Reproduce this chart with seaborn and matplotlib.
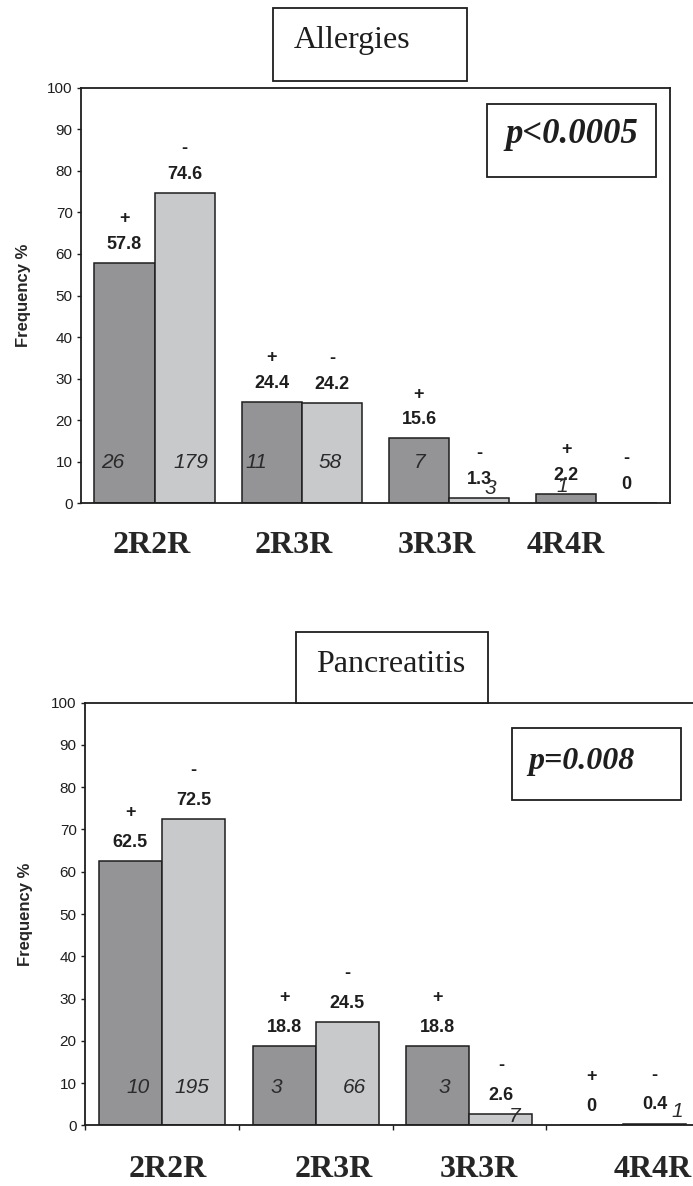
import numpy as np
import pandas as pd
import matplotlib.pyplot as plt
import seaborn as sns
from matplotlib.patches import Rectangle
from matplotlib.transforms import ScaledTranslation

# data
genotypes = ["2R2R", "2R3R", "3R3R", "4R4R"]

allergy_pos = [57.8, 24.4, 15.6, 2.2]
allergy_neg = [74.6, 24.2, 1.3, 0.0]
allergy_n_pos = ["26", "11", "7", "1"]
allergy_n_neg = ["179", "58", "3", ""]

pancreatitis_pos = [62.5, 18.8, 18.8, 0.0]
pancreatitis_neg = [72.5, 24.5, 2.6, 0.4]
pancreatitis_n_pos = ["10", "3", "3", ""]
pancreatitis_n_neg = ["195", "66", "7", "1"]

W, H = 693, 1186
DARK = "#939498"
LIGHT = "#c8c9cb"
INK = "#1e1e1e"
SERIF = ["Liberation Serif", "DejaVu Serif"]

sns.set_style("ticks")
plt.rcParams["font.family"] = ["Liberation Sans", "DejaVu Sans"]
plt.rcParams["axes.edgecolor"] = INK
plt.rcParams["text.color"] = INK


def px_box(x0, y0, x1, y1):
    return [x0 / W, 1 - y1 / H, (x1 - x0) / W, (y1 - y0) / H]


def fig_box(fig, x0, y0, x1, y1):
    l, b, w, h = px_box(x0, y0, x1, y1)
    rect = Rectangle((l, b), w, h, transform=fig.transFigure, facecolor="white",
                     edgecolor=INK, linewidth=1.3, zorder=2)
    fig.add_artist(rect)


def draw_panel(fig, axes_px, pos, neg, n_pos, n_neg, title, title_box, title_xy,
               pval, p_box, p_xy, p_size, label_dx, label_pad, cnt_dx, cnt_y, sign_off,
               boundary_ticks):
    ax = fig.add_axes(px_box(*axes_px))
    df = pd.DataFrame({
        "genotype": genotypes * 2,
        "group": ["+"] * 4 + ["-"] * 4,
        "freq": pos + neg,
    })
    sns.barplot(data=df, x="genotype", y="freq", hue="group", order=genotypes,
                hue_order=["+", "-"], palette={"+": DARK, "-": LIGHT}, width=0.82,
                edgecolor=INK, linewidth=1.1, errorbar=None, legend=False, ax=ax)
    ax.set_xlim(-0.5, 3.5)
    ax.set_ylim(0, 100)
    ax.set_yticks(np.arange(0, 101, 10))
    ax.tick_params(axis="y", length=3, width=1, pad=3, labelsize=11, colors=INK)
    ax.set_xlabel("")
    ax.set_ylabel("Frequency %", fontsize=12, fontweight="bold")
    ax.yaxis.set_label_coords(-0.085, 0.5)
    for s in ax.spines.values():
        s.set_linewidth(1.3)

    ax.set_xticks(range(4))
    ax.set_xticklabels(genotypes, fontfamily=SERIF, fontsize=23, fontweight="bold")
    ax.tick_params(axis="x", which="major", length=0, pad=label_pad)
    for lbl, dx in zip(ax.get_xticklabels(), label_dx):
        lbl.set_transform(lbl.get_transform() + ScaledTranslation(dx / 100, 0, fig.dpi_scale_trans))
    if boundary_ticks:
        ax.set_xticks([-0.5, 0.5, 1.5, 2.5, 3.5], minor=True)
        ax.tick_params(axis="x", which="minor", length=3.6, width=1, colors=INK)

    signs = ["+", "-"]
    counts = [n_pos, n_neg]
    for k, cont in enumerate(ax.containers):
        for i, bar in enumerate(cont):
            x = bar.get_x() + bar.get_width() / 2
            h = bar.get_height()
            ax.annotate(f"{h:g}", xy=(x, h), xytext=(0, 10.2), textcoords="offset points",
                        ha="center", va="baseline", fontsize=13, fontweight="bold")
            ax.annotate(signs[k], xy=(x, h), xytext=(0, sign_off), textcoords="offset points",
                        ha="center", va="baseline", fontsize=13, fontweight="bold")
            if counts[k][i]:
                ax.annotate(counts[k][i], xy=(x, cnt_y[k][i]),
                            xytext=(cnt_dx[k][i] * 0.72, 0), textcoords="offset points",
                            ha="center", va="center", fontsize=15, fontstyle="italic",
                            color="#2a2a2a")

    fig_box(fig, *title_box)
    fig.text(title_xy[0] / W, 1 - title_xy[1] / H, title, fontfamily=SERIF, fontsize=23,
             ha="center", va="baseline", zorder=3)
    fig_box(fig, *p_box)
    fig.text(p_xy[0] / W, 1 - p_xy[1] / H, pval, fontfamily=SERIF, fontsize=p_size,
             fontweight="bold", fontstyle="italic", ha="left", va="baseline", zorder=3)
    return ax


fig = plt.figure(figsize=(W / 100, H / 100), dpi=100)

draw_panel(fig, (81, 87.7, 670, 503.3), allergy_pos, allergy_neg, allergy_n_pos, allergy_n_neg,
           "Allergies", (273, 8.3, 467, 80.7), (352, 48.3),
           "p<0.0005", (487, 104, 656, 176.7), (505, 143.3), 25,
           label_dx=[-3, -8, -12, -31], label_pad=20,
           cnt_dx=[[-12, -15, 1, -4], [6, -2, 11, 0]],
           cnt_y=[[9.8, 9.8, 9.8, 4.0], [9.8, 9.8, 3.6, 0]],
           sign_off=28.7, boundary_ticks=False)

ax2 = draw_panel(fig, (85, 702.7, 700, 1125.3), pancreatitis_pos, pancreatitis_neg,
                 pancreatitis_n_pos, pancreatitis_n_neg,
                 "Pancreatitis", (295.7, 632.3, 488.3, 703.3), (391, 671.7),
                 "p=0.008", (511.7, 728.3, 680.7, 800), (528, 769), 23,
                 label_dx=[6, 18, 9, 30], label_pad=21.5,
                 cnt_dx=[[8, -8, 6, 0], [-2, 7, 14, 23]],
                 cnt_y=[[9.0, 9.0, 9.0, 0], [9.0, 9.0, 2.0, 3.2]],
                 sign_off=31.7, boundary_ticks=True)
ax2.spines["right"].set_visible(False)

fig.savefig("out.png", dpi=100)
